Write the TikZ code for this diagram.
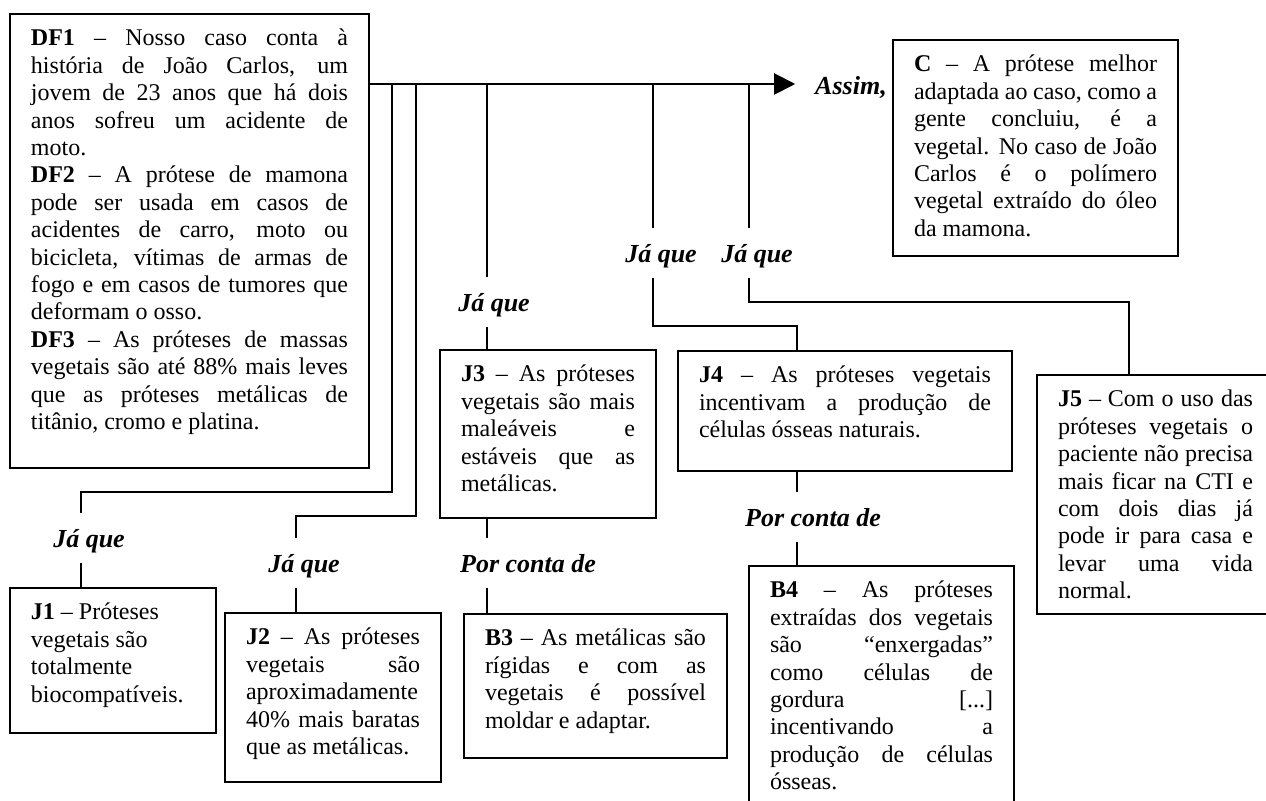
\documentclass[tikz,border=0pt]{standalone}
\usepackage{fontspec}
\setmainfont{Liberation Serif}
\usetikzlibrary{arrows.meta}
\tolerance=10000
\hbadness=10000
\hyphenpenalty=10000
\newcommand{\bodyfont}{\fontsize{12}{13.7}\selectfont}
\newcommand{\tagfont}{\fontsize{13}{13}\selectfont\bfseries\itshape}

\begin{document}
\begin{tikzpicture}[x=0.5pt,y=-0.5pt,line width=1pt]

      \useasboundingbox (0,0) rectangle (1266,801);
      \clip (0,0) rectangle (1266,801);

      \begin{scope}[every node/.style={draw, anchor=north west, align=justify, font=\bodyfont,
          inner xsep=10.5pt, inner ysep=0pt, text height=16pt}]
        \node[text width=158.5pt, text depth=211pt] (DF) at (9,13)
          {\textbf{DF1} – Nosso caso conta à\linebreak história de João Carlos, um\linebreak
           jovem de 23 anos que há dois\linebreak anos sofreu um acidente de\linebreak moto.\\
           \textbf{DF2} – A prótese de mamona\linebreak pode ser usada em casos de\linebreak
           acidentes de carro, moto ou\linebreak bicicleta, vítimas de armas de\linebreak
           fogo e em casos de tumores que\linebreak deformam o osso.\\
           \textbf{DF3} – As próteses de massas\linebreak vegetais são até 88\% mais leves\linebreak
           que as próteses metálicas de\linebreak titânio, cromo e platina.};
        \node[text width=121.5pt, text depth=92pt] (C) at (892,39)
          {\textbf{C} – A prótese melhor\linebreak adaptada ao caso, como a\linebreak
           gente concluiu, é a\linebreak vegetal. No caso de João\linebreak
           Carlos é o polímero\linebreak vegetal extraído do óleo\linebreak da mamona.};
        \node[text width=82pt, text depth=56.5pt] (J1) at (9,587)
          {\textbf{J1} – Próteses\\ vegetais são\\ totalmente\\ biocompatíveis.};
        \node[text width=87pt, text depth=68.5pt] (J2) at (224,612)
          {\textbf{J2} – As próteses\linebreak vegetais são\linebreak aproximadamente\linebreak
           40\% mais baratas\linebreak que as metálicas.};
        \node[text width=87pt, text depth=68pt] (J3) at (439,349)
          {\textbf{J3} – As próteses\linebreak vegetais são mais\linebreak maleáveis e\linebreak
           estáveis que as\linebreak metálicas.};
        \node[text width=110.5pt, text depth=56pt] (B3) at (463,613)
          {\textbf{B3} – As metálicas são\linebreak rígidas e com as\linebreak
           vegetais é possível\linebreak moldar e adaptar.};
        \node[text width=146pt, text depth=44pt] (J4) at (677,350)
          {\textbf{J4} – As próteses vegetais\linebreak incentivam a produção de\linebreak
           células ósseas naturais.};
        \node[text width=111.5pt, text depth=126.5pt] (B4) at (748,565)
          {\textbf{B4} – As próteses\linebreak extraídas dos vegetais\linebreak
           são “enxergadas”\linebreak como células de\linebreak gordura [...]\linebreak
           incentivando a\linebreak produção de células\linebreak ósseas.};
        \node[text width=97.5pt, text depth=103.5pt] (J5) at (1036,374)
          {\textbf{J5} – Com o uso das\linebreak próteses vegetais o\linebreak
           paciente não precisa\linebreak mais ficar na CTI e\linebreak com dois dias já\linebreak
           pode ir para casa e\linebreak levar uma vida\linebreak normal.};
      \end{scope}

      \begin{scope}[every node/.style={anchor=base, font=\tagfont, inner xsep=0pt, inner ysep=4pt,
          text height=13pt, text depth=3pt}]
        \node[inner xsep=9.5pt] (A) at (851,95) {Assim,};
        \node (L1) at (89,548)  {Já que};
        \node (L2) at (304,573) {Já que};
        \node (L3) at (494,312) {Já que};
        \node (L4) at (661,263) {Já que};
        \node (L5) at (757,263) {Já que};
        \node (L6) at (528,573) {Por conta de};
        \node (L7) at (813,527) {Por conta de};
      \end{scope}

      \coordinate (axis) at (0,84);
      \coordinate (b1) at (392,84);
      \coordinate (b2) at (416,84);
      \coordinate (b3) at (487,84);
      \coordinate (b4) at (653,84);
      \coordinate (b5) at (749,84);
      \coordinate (k1) at (81,492);
      \coordinate (k2) at (296,516);
      \coordinate (k4) at (797,326);
      \coordinate (k5) at (1129,302);

      \draw[-{Triangle[length=10.5pt,width=10.5pt]}] (DF.east |- axis) -- (A.west |- axis);
      \draw (b1) |- (k1) -- (k1 |- L1.north);
      \draw (k1 |- L1.south) -- (k1 |- J1.north);
      \draw (b2) |- (k2) -- (k2 |- L2.north);
      \draw (k2 |- L2.south) -- (k2 |- J2.north);
      \draw (b3) -- (b3 |- L3.north);
      \draw (b3 |- L3.south) -- (b3 |- J3.north);
      \draw (b3 |- J3.south) -- (b3 |- L6.north);
      \draw (b3 |- L6.south) -- (b3 |- B3.north);
      \draw (b4) -- (b4 |- L4.north);
      \draw (b4 |- L4.south) |- (k4) -- (k4 |- J4.north);
      \draw (k4 |- J4.south) -- (k4 |- L7.north);
      \draw (k4 |- L7.south) -- (k4 |- B4.north);
      \draw (b5) -- (b5 |- L5.north);
      \draw (b5 |- L5.south) |- (k5) -- (k5 |- J5.north);

    \end{tikzpicture}
\end{document}
